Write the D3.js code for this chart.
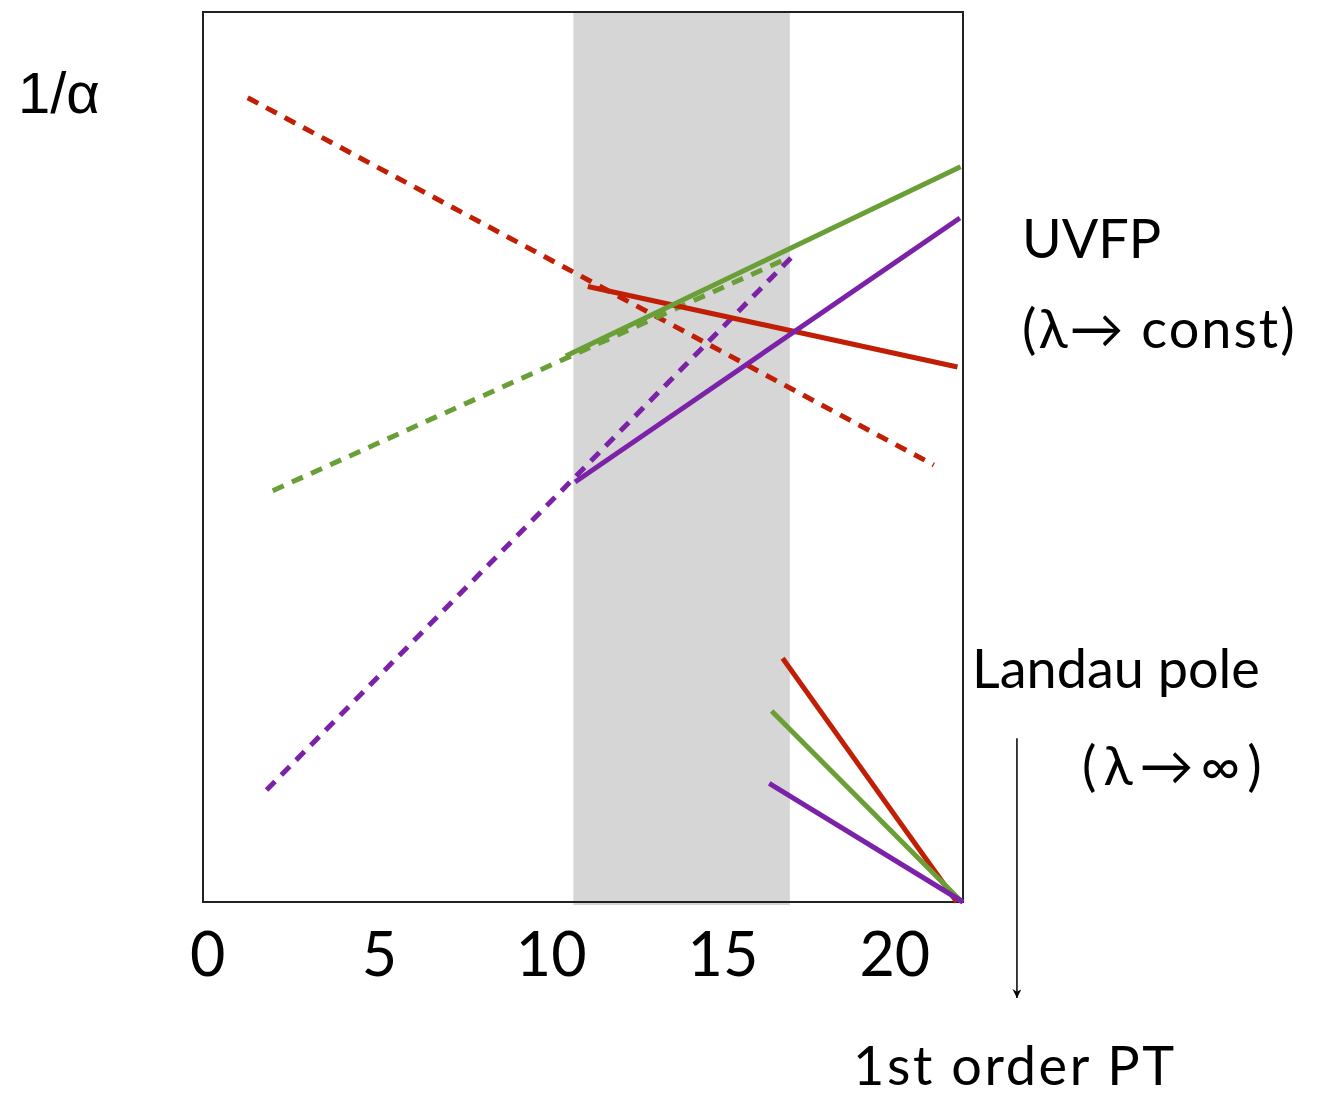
<!DOCTYPE html>
<html>
<head>
<meta charset="utf-8">
<script src="https://cdn.jsdelivr.net/npm/d3@7"></script>
<style>
  html, body { margin: 0; padding: 0; background: #ffffff; }
  svg { display: block; }
</style>
</head>
<body>
<svg id="chart" width="1328" height="1100"></svg>
<script>
// Axis ticks (scale in arbitrary log-energy units)
const xTicks = [0, 5, 10, 15, 20];

// Shaded window of scales
const bandX = [10.66, 16.96];

// Perturbative (one-loop) running of 1/alpha — dashed
const redDashed    = [[1.18, 90.37], [21.15, 49.10]];
const greenDashed  = [[1.91, 46.21], [16.91, 72.36]];
const purpleDashed = [[1.73, 12.58], [17.02, 72.47]];

// UV fixed-point branch — solid
const redUV    = [[11.08, 69.16], [21.84, 60.11]];
const greenUV  = [[10.44, 61.35], [21.93, 82.62]];
const purpleUV = [[10.71, 47.19], [21.91, 76.85]];

// Landau-pole branch — solid, running to zero
const redLP    = [[16.75, 27.38], [21.82, 0]];
const greenLP  = [[16.43, 21.46], [21.97, 0]];
const purpleLP = [[16.36, 13.34], [22.00, 0]];

// Arrow toward first-order phase transition
const arrowPts = [[23.57, 18.4], [23.57, -10.8]];

const colors = { red: "#c11f05", green: "#6a9f37", purple: "#7b22a8" };

const svg = d3.select("#chart");
const frame = { left: 203, right: 963, top: 12, bottom: 902 };

const x = d3.scaleLinear().domain([-0.12, 22]).range([frame.left, frame.right]);
const y = d3.scaleLinear().domain([0, 100]).range([frame.bottom, frame.top]);

const line = d3.line().x(d => x(d[0])).y(d => y(d[1]));

// shaded band
svg.append("rect")
  .attr("x", x(bandX[0]))
  .attr("y", y(100))
  .attr("width", x(bandX[1]) - x(bandX[0]))
  .attr("height", y(-0.35) - y(100))
  .attr("fill", "#d6d6d6");

// plot frame
svg.append("rect")
  .attr("x", frame.left)
  .attr("y", frame.top)
  .attr("width", frame.right - frame.left)
  .attr("height", frame.bottom - frame.top)
  .attr("fill", "none")
  .attr("stroke", "#222")
  .attr("stroke-width", 2);

const series = [
  { pts: redDashed,    c: colors.red,    dash: "12,9" },
  { pts: greenDashed,  c: colors.green,  dash: "12,9" },
  { pts: purpleDashed, c: colors.purple, dash: "12,9" },
  { pts: redUV,        c: colors.red,    dash: null },
  { pts: greenUV,      c: colors.green,  dash: null },
  { pts: purpleUV,     c: colors.purple, dash: null },
  { pts: redLP,        c: colors.red,    dash: null },
  { pts: greenLP,      c: colors.green,  dash: null },
  { pts: purpleLP,     c: colors.purple, dash: null }
];

svg.append("g").selectAll("path")
  .data(series)
  .join("path")
  .attr("d", d => line(d.pts))
  .attr("fill", "none")
  .attr("stroke", d => d.c)
  .attr("stroke-width", 5)
  .attr("stroke-linecap", "butt")
  .attr("stroke-dasharray", d => d.dash);

// x axis labels
const xAxis = d3.axisBottom(x)
  .tickValues(xTicks)
  .tickSize(0)
  .tickPadding(31)
  .tickFormat(d3.format("d"));

const gx = svg.append("g")
  .attr("transform", `translate(0,${frame.bottom})`)
  .call(xAxis);
gx.select(".domain").remove();
gx.selectAll("text")
  .attr("font-family", "Lato, 'Open Sans', sans-serif")
  .attr("font-size", 61)
  .attr("fill", "#000");

// y label
svg.append("text")
  .attr("x", 18)
  .attr("y", 113)
  .attr("font-family", "'Liberation Sans', Arial, sans-serif")
  .attr("font-size", 58)
  .attr("fill", "#000")
  .text("1/α");

// arrow marker
const defs = svg.append("defs");
defs.append("marker")
  .attr("id", "head")
  .attr("viewBox", "0 0 10 10")
  .attr("refX", 10)
  .attr("refY", 5)
  .attr("markerWidth", 9)
  .attr("markerHeight", 9)
  .attr("markerUnits", "userSpaceOnUse")
  .attr("orient", "auto")
  .append("path")
  .attr("d", "M0,0 L10,5 L0,10 L3,5 Z")
  .attr("fill", "#000");

svg.append("path")
  .attr("d", line(arrowPts))
  .attr("stroke", "#000")
  .attr("stroke-width", 1.5)
  .attr("fill", "none")
  .attr("marker-end", "url(#head)");

// annotations
const notes = [
  { t: "UVFP", x: 1022, y: 258, ls: 0 },
  { t: "(λ→ const)", x: 1022, y: 348, ls: 2 },
  { t: "Landau pole", x: 972, y: 688, ls: 0 },
  { t: "(λ→∞)", x: 1082, y: 785, ls: 7 },
  { t: "1st order PT", x: 853, y: 1085, ls: 2.6 }
];
svg.append("g").selectAll("text")
  .data(notes)
  .join("text")
  .attr("x", d => d.x)
  .attr("y", d => d.y)
  .attr("font-family", "Lato, 'Open Sans', sans-serif")
  .attr("font-size", 54)
  .attr("letter-spacing", d => d.ls)
  .attr("fill", "#000")
  .text(d => d.t);
</script>
</body>
</html>
